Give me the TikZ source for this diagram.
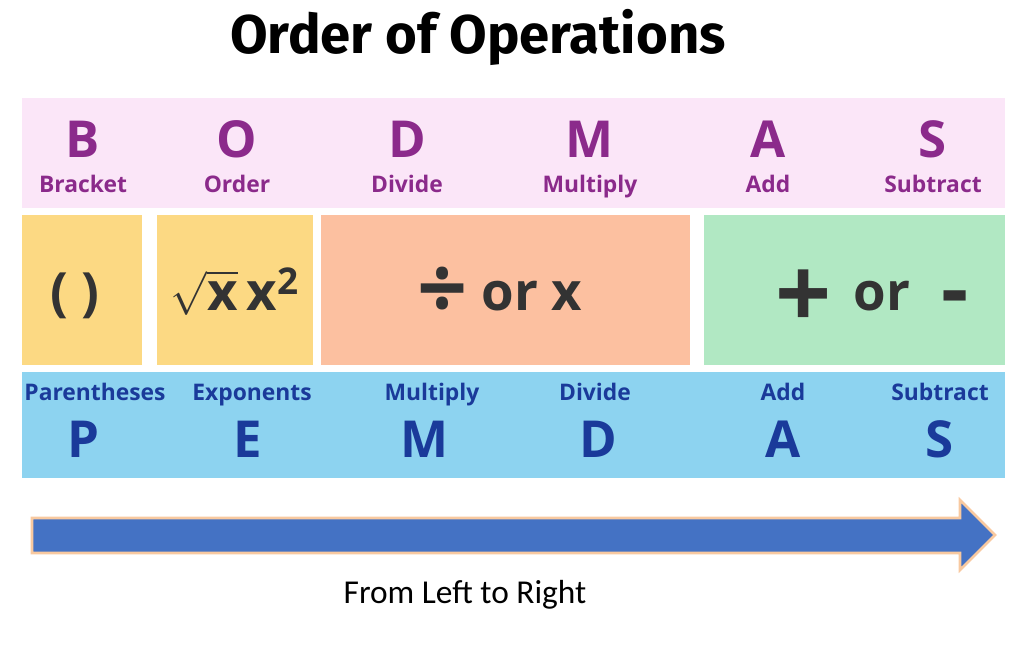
\documentclass[tikz,border=0pt]{standalone}
\usepackage{amsmath}
\usepackage{fontspec}
\setmainfont{Open Sans}
\newfontfamily\titlefont{Fira Sans}
\newfontfamily\notefont{Carlito}
\definecolor{bodmasbg}{HTML}{FBE6F8}
\definecolor{bodmasfg}{HTML}{8B2A8B}
\definecolor{pemdasbg}{HTML}{8DD3F0}
\definecolor{pemdasfg}{HTML}{1A3A9A}
\definecolor{opyellow}{HTML}{FCD983}
\definecolor{opsalmon}{HTML}{FCC0A0}
\definecolor{opgreen}{HTML}{B1E8C3}
\definecolor{arrowblue}{HTML}{4472C4}
\definecolor{arrowglow}{HTML}{F8C9A0}

\begin{document}
\begin{tikzpicture}[
  x=0.02cm, y=-0.02cm,
  bigletter/.style={anchor=base,font=\bfseries\fontsize{29}{29}\selectfont},
  smalllabel/.style={anchor=base,font=\bfseries\fontsize{13}{13}\selectfont},
  symbol/.style={anchor=base,font=\bfseries\fontsize{30}{30}\selectfont,text=black!80}
]
\useasboundingbox (0,0) rectangle (1023,645);

% title
\node[anchor=base,font=\titlefont\bfseries\fontsize{31}{31}\selectfont] (title) at (478,54) {Order of Operations};

% bands and boxes
\fill[bodmasbg] (22,98) rectangle (1005,208);
\fill[opyellow] (22,215) rectangle (142,365);
\fill[opyellow] (157,215) rectangle (313,365);
\fill[opsalmon] (321,215) rectangle (690,365);
\fill[opgreen] (704,215) rectangle (1005,365);
\fill[pemdasbg] (22,372) rectangle (1005,478);

% BODMAS
\foreach \x/\l/\w [count=\i] in {83/B/Bracket, 237/O/Order, 407/D/Divide,
    590/M/Multiply, 768/A/Add, 933/S/Subtract} {
  \node[bigletter,text=bodmasfg] (b\i) at (\x,157) {\l};
  \node[smalllabel,text=bodmasfg] (bw\i) at (\x,193) {\w};
}

% operations
\node[symbol] (paren) at (75,310) {( )};
\node[symbol] (expo) at (235,310) {$\sqrt{\hbox{x}}$\,x\textsuperscript{2}};
\node[symbol] (muldiv) at (500,310) {\raisebox{-5.5pt}{\fontsize{50}{50}\selectfont ÷} or x};
\node[symbol] (addsub) at (872,310) {\raisebox{-10.5pt}{\fontsize{56}{56}\selectfont +}\, or\,\, \raisebox{-5pt}{\fontsize{48}{48}\selectfont -}};

% PEMDAS
\foreach \x/\y/\l/\w [count=\i] in {83/95/P/Parentheses, 248/252/E/Exponents,
    425/432/M/Multiply, 598/595/D/Divide, 783/783/A/Add, 940/940/S/Subtract} {
  \node[bigletter,text=pemdasfg] (p\i) at (\x,457) {\l};
  \node[smalllabel,text=pemdasfg] (pw\i) at (\y,400) {\w};
}

% arrow
\filldraw[fill=arrowblue,draw=arrowglow,line width=1.5pt]
  (32,518) -- (960,518) -- (960,500) -- (995,535) -- (960,570)
  -- (960,553) -- (32,553) -- cycle;
\node[font=\notefont\fontsize{19}{19}\selectfont] (note) at (465,595) {From Left to Right};
\end{tikzpicture}
\end{document}
